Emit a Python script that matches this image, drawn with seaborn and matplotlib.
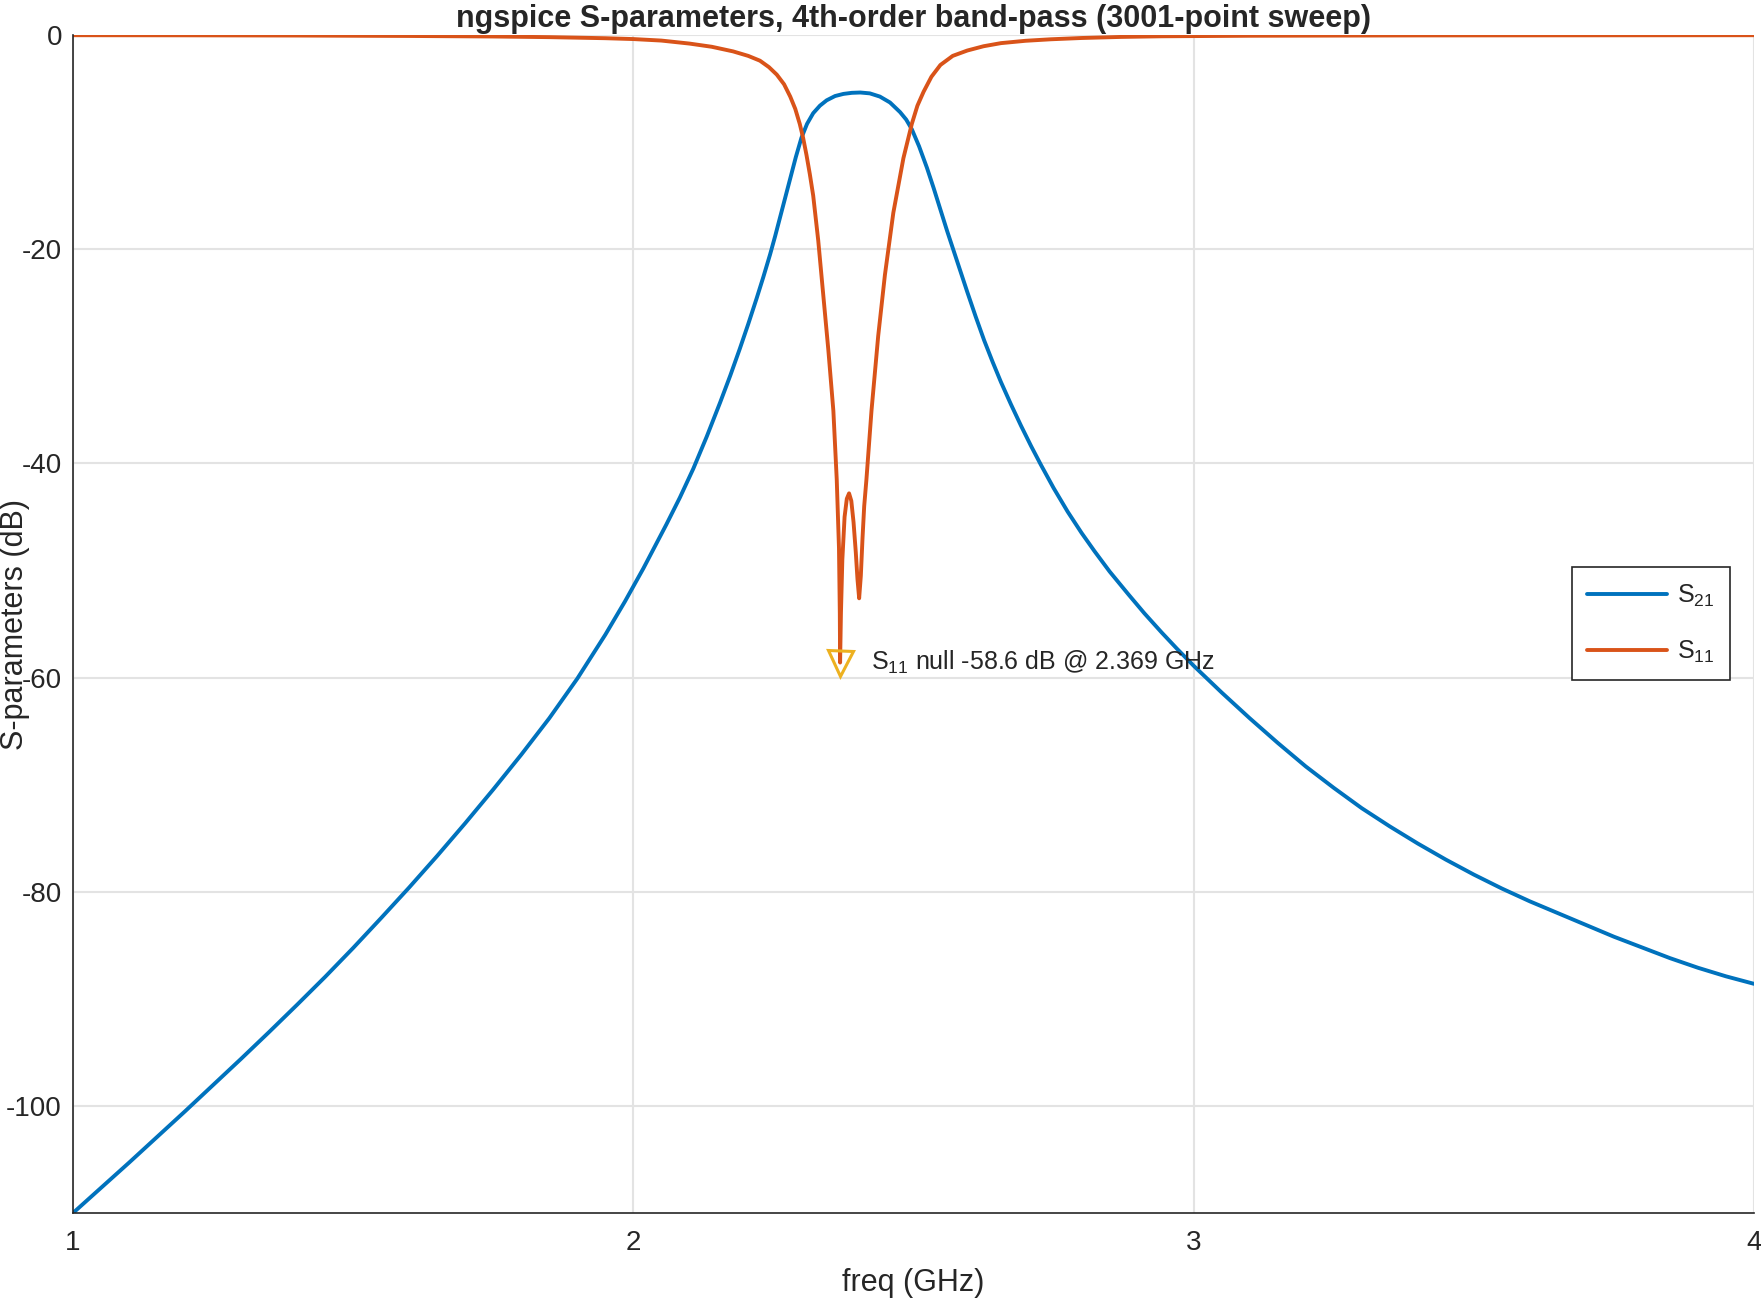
# Import libraries
import numpy as np
import pandas as pd
import matplotlib
matplotlib.use('Agg')
import matplotlib.pyplot as plt
import seaborn as sns

# Set plot style
sns.set_theme(style='whitegrid')
plt.rcParams['font.family'] = ['Liberation Sans', 'DejaVu Sans']
plt.rcParams['mathtext.fontset'] = 'custom'
plt.rcParams['mathtext.rm'] = 'Liberation Sans'
plt.rcParams['axes.unicode_minus'] = False

# -------------------------
# Data (freq in GHz, magnitude in dB)
freq_s21 = [1.000, 1.050, 1.100, 1.150, 1.200, 1.250, 1.300, 1.350, 1.400, 1.450,
            1.500, 1.550, 1.600, 1.650, 1.700, 1.750, 1.800, 1.850, 1.900, 1.950,
            1.985, 2.018, 2.059, 2.083, 2.107, 2.131, 2.155, 2.173, 2.190, 2.205,
            2.220, 2.232, 2.244, 2.253, 2.262, 2.271, 2.280, 2.290, 2.300, 2.310,
            2.321, 2.333, 2.345, 2.360, 2.375, 2.390, 2.405, 2.422, 2.440, 2.458,
            2.476, 2.487, 2.497, 2.510, 2.524, 2.536, 2.548, 2.560, 2.572, 2.584,
            2.596, 2.611, 2.626, 2.641, 2.656, 2.674, 2.692, 2.710, 2.727, 2.750,
            2.775, 2.800, 2.823, 2.850, 2.883, 2.912, 2.943, 2.970, 3.000, 3.050,
            3.100, 3.150, 3.200, 3.250, 3.300, 3.350, 3.400, 3.450, 3.500, 3.550,
            3.600, 3.650, 3.700, 3.750, 3.800, 3.850, 3.900, 3.950, 4.000]
s21_db = [-110.0, -107.65, -105.3, -102.9, -100.5, -98.05, -95.6, -93.1, -90.55, -87.95,
          -85.25, -82.45, -79.6, -76.65, -73.6, -70.45, -67.2, -63.8, -60.1, -56.0,
          -52.9, -49.8, -45.7, -43.2, -40.5, -37.5, -34.3, -31.8, -29.3, -27.0,
          -24.6, -22.6, -20.5, -18.8, -17.0, -15.2, -13.4, -11.4, -9.6, -8.3,
          -7.3, -6.6, -6.1, -5.7, -5.5, -5.4, -5.37, -5.45, -5.75, -6.3,
          -7.2, -7.9, -8.8, -10.4, -12.4, -14.3, -16.3, -18.3, -20.2, -22.1,
          -24.0, -26.3, -28.5, -30.5, -32.4, -34.5, -36.5, -38.4, -40.1, -42.3,
          -44.5, -46.5, -48.2, -50.1, -52.2, -54.0, -55.8, -57.3, -58.9, -61.4,
          -63.8, -66.1, -68.3, -70.3, -72.2, -73.9, -75.5, -77.0, -78.4, -79.7,
          -80.9, -82.0, -83.1, -84.2, -85.2, -86.2, -87.1, -87.9, -88.6]

freq_s11 = [1.000, 1.200, 1.400, 1.600, 1.750, 1.850, 1.950, 2.000, 2.050, 2.100,
            2.140, 2.178, 2.205, 2.226, 2.242, 2.256, 2.269, 2.280, 2.289, 2.297,
            2.303, 2.309, 2.315, 2.321, 2.330, 2.339, 2.348, 2.357, 2.363, 2.367,
            2.3685, 2.369, 2.3705, 2.373, 2.377, 2.381, 2.385, 2.389, 2.393, 2.397,
            2.400, 2.403, 2.406, 2.409, 2.412, 2.416, 2.425, 2.437, 2.449, 2.464,
            2.482, 2.497, 2.507, 2.518, 2.532, 2.548, 2.570, 2.596, 2.625, 2.656,
            2.700, 2.745, 2.800, 2.870, 2.943, 3.100, 3.400, 3.700, 4.000]
s11_db = [-0.02, -0.03, -0.05, -0.09, -0.14, -0.20, -0.30, -0.38, -0.52, -0.80,
          -1.10, -1.53, -1.95, -2.4, -3.0, -3.7, -4.6, -5.75, -6.9, -8.3,
          -9.6, -11.2, -13.0, -15.0, -19.2, -24.3, -29.4, -35.1, -41.5, -47.9,
          -54.0, -58.6, -54.0, -49.0, -45.0, -43.3, -42.8, -43.5, -45.5, -48.3,
          -50.8, -52.6, -50.5, -47.0, -44.0, -41.5, -35.1, -28.1, -22.4, -16.6,
          -11.5, -8.3, -6.6, -5.3, -3.9, -2.8, -1.95, -1.45, -1.05, -0.76,
          -0.54, -0.40, -0.28, -0.18, -0.12, -0.07, -0.04, -0.03, -0.02]

df21 = pd.DataFrame({'freq': freq_s21, 'dB': s21_db})
df11 = pd.DataFrame({'freq': freq_s11, 'dB': s11_db})

# S11 null
i_null = int(np.argmin(s11_db))
f_null = freq_s11[i_null]
db_null = s11_db[i_null]

# -------------------------
# Plot
axis_col = '#262626'
fig, ax = plt.subplots(figsize=(17.61, 13.03), dpi=100)
fig.subplots_adjust(left=73/1761, right=1754/1761, bottom=1-1213/1303, top=1-35/1303)

sns.lineplot(data=df21, x='freq', y='dB', color='#0072BD', lw=2.8,
             label=r'$\mathregular{S_{21}}$', ax=ax)
sns.lineplot(data=df11, x='freq', y='dB', color='#D95319', lw=2.8,
             label=r'$\mathregular{S_{11}}$', ax=ax)

ax.plot([f_null], [db_null], marker='v', markersize=18, mfc='none',
        mec='#EDB120', mew=2.2, ls='none')
ax.text(f_null + 0.055, db_null,
        r'$\mathregular{S_{11}}$' + f' null {db_null:.1f} dB @ {f_null:.3f} GHz',
        fontsize=18, color=axis_col, ha='left', va='center')

ax.set_xlim(1, 4)
ax.set_ylim(-110, 0)
ax.set_xticks([1, 2, 3, 4])
ax.set_yticks([-100, -80, -60, -40, -20, 0])

ax.set_title('ngspice S-parameters, 4th-order band-pass (3001-point sweep)',
             fontsize=22, fontweight='bold', color=axis_col, pad=6)
ax.set_xlabel('freq (GHz)', fontsize=22, color=axis_col)
ax.set_ylabel('S-parameters (dB)', fontsize=22, color=axis_col)
ax.yaxis.set_label_coords(-0.0345, 0.5)
ax.yaxis.label.set_va('center')
ax.xaxis.labelpad = 9

ax.tick_params(direction='in', length=12.5, width=1.2, colors=axis_col, labelsize=20)
ax.tick_params(axis='x', pad=12)
ax.tick_params(axis='y', pad=8)

ax.grid(True, color='#e3e3e3', lw=1.5)
ax.set_axisbelow(True)
for side in ['top', 'right']:
    ax.spines[side].set_visible(False)
for side in ['left', 'bottom']:
    ax.spines[side].set_color(axis_col)
    ax.spines[side].set_linewidth(1.2)

leg = ax.legend(loc='upper left', bbox_to_anchor=(0.892, 0.548), fontsize=18,
                frameon=True, fancybox=False, framealpha=1, edgecolor=axis_col,
                handlelength=3.2, handletextpad=0.4, labelspacing=1.2,
                borderpad=0.6, borderaxespad=0)
leg.get_frame().set_linewidth(1.2)

plt.savefig('out.png', dpi=100)
